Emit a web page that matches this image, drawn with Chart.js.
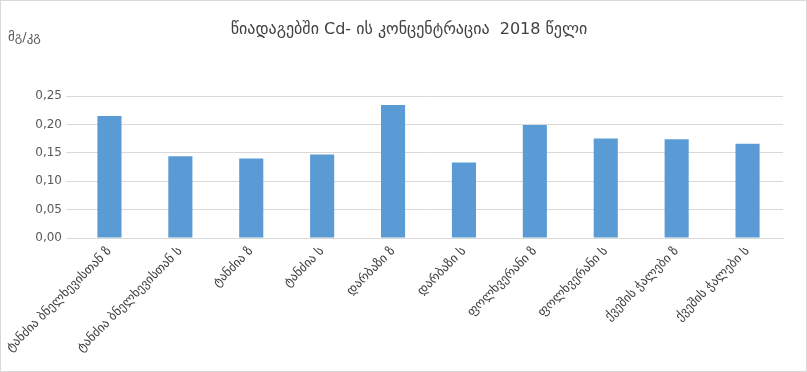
<!DOCTYPE html>
<html>
<head>
<meta charset="utf-8">
<script src="https://cdn.jsdelivr.net/npm/chart.js@4/dist/chart.umd.min.js"></script>
<style>
  html, body { margin: 0; padding: 0; background: #fff; }
  #wrap { width: 807px; height: 372px; position: relative; box-sizing: border-box; border: 1px solid #d9d9d9; }
</style>
</head>
<body>
<div id="wrap"><canvas id="myChart" width="805" height="370"></canvas></div>
<script>
const TITLE = 'წიადაგებში Cd- ის კონცენტრაცია  2018 წელი';
const UNIT = 'მგ/კგ';

const sites = [
  'ტანძია ბნელხევისთან ზ',
  'ტანძია ბნელხევისთან ს',
  'ტანძია ზ',
  'ტანძია ს',
  'დარბაზი ზ',
  'დარბაზი ს',
  'ფოლხვერანი ზ',
  'ფოლხვერანი ს',
  'ქვეშის ჭალები ზ',
  'ქვეშის ჭალები ს'
];
const cadmium = [0.215, 0.144, 0.140, 0.147, 0.234, 0.133, 0.199, 0.175, 0.174, 0.166];

const FONT = "'DejaVu Sans', 'Noto Sans', sans-serif";

// chart title and the unit caption above the value axis
const headings = {
  id: 'headings',
  afterDraw(chart) {
    const ctx = chart.ctx;
    ctx.save();
    ctx.textBaseline = 'middle';
    ctx.font = '16px ' + FONT;
    ctx.fillStyle = '#404040';
    ctx.textAlign = 'center';
    ctx.fillText(TITLE, 408, 29);
    ctx.font = '13px ' + FONT;
    ctx.fillStyle = '#595959';
    ctx.textAlign = 'left';
    ctx.fillText(UNIT, 7, 37);
    ctx.restore();
  }
};

const ctx = document.getElementById('myChart').getContext('2d');

const chart = new Chart(ctx, {
  type: 'bar',
  data: {
    labels: sites,
    datasets: [{
      data: cadmium,
      backgroundColor: '#5b9bd5',
      borderWidth: 0,
      categoryPercentage: 1,
      barPercentage: 0.34
    }]
  },
  options: {
    responsive: false,
    animation: false,
    layout: { padding: { top: 95, left: 0, right: 23, bottom: 0 } },
    plugins: {
      legend: { display: false },
      tooltip: { enabled: false },
      title: { display: false }
    },
    scales: {
      x: {
        grid: { display: false, drawTicks: false },
        border: { color: '#d9d9d9', width: 1 },
        ticks: {
          color: '#404040',
          font: { family: FONT, size: 12.5 },
          maxRotation: 45,
          minRotation: 45,
          padding: 6,
          autoSkip: false
        },
        afterFit(scale) {
          scale.height = 133;
          scale.paddingLeft = 0;
          scale.paddingRight = 0;
        }
      },
      y: {
        min: 0,
        max: 0.25,
        grid: { color: '#d9d9d9', drawTicks: true, tickLength: 8, tickColor: '#d9d9d9' },
        border: { display: false },
        ticks: {
          stepSize: 0.05,
          color: '#595959',
          font: { family: FONT, size: 12 },
          padding: 4,
          callback: v => v.toFixed(2).replace('.', ',')
        },
        afterFit(scale) { scale.width = 73; }
      }
    }
  },
  plugins: [headings]
});
</script>
</body>
</html>
